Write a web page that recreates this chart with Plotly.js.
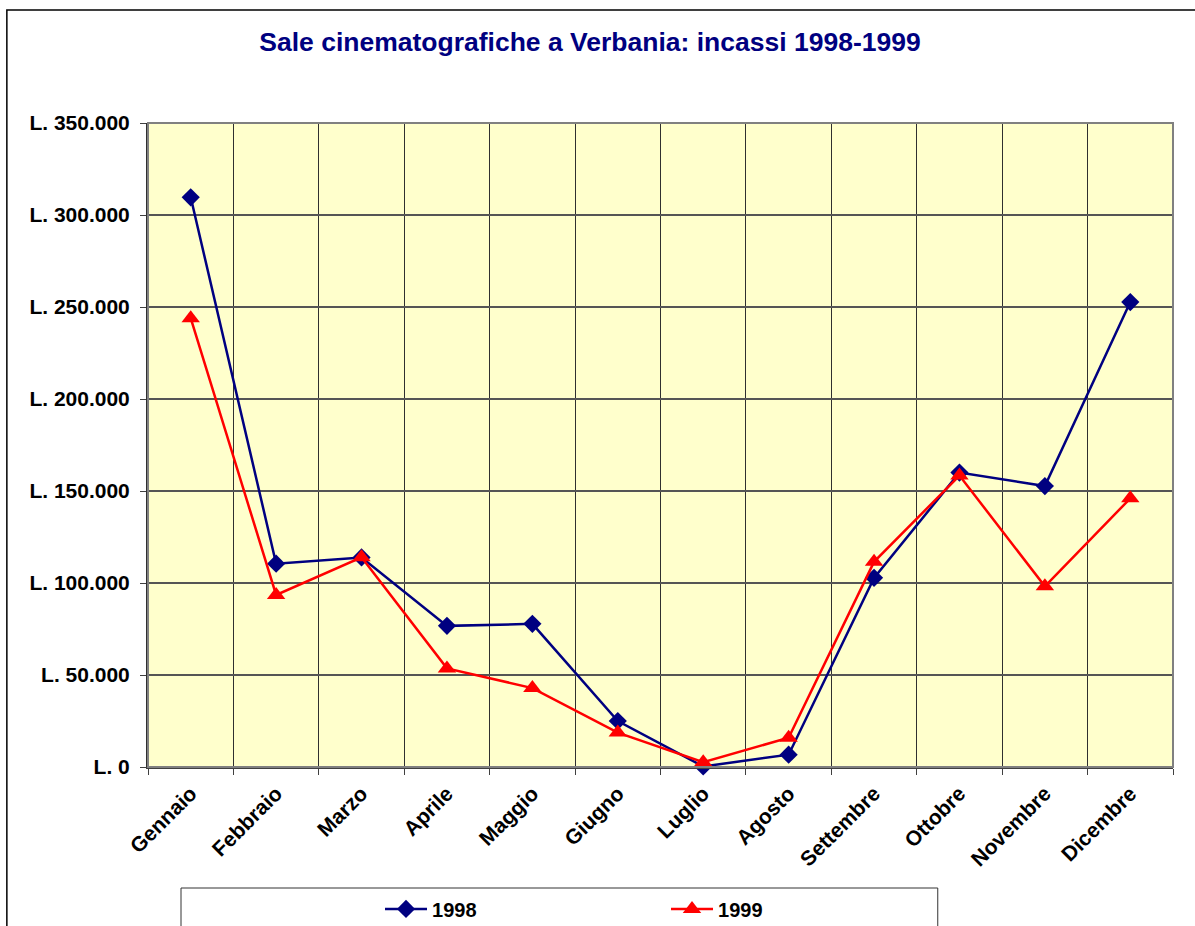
<!DOCTYPE html>
<html>
<head>
<meta charset="utf-8">
<script src="https://cdn.plot.ly/plotly-3.0.1.min.js"></script>
<style>
  html, body { margin: 0; padding: 0; background: #ffffff; }
  #chart { width: 1195px; height: 926px; }
</style>
</head>
<body>
<div id="chart"></div>
<script>
const months = ["Gennaio", "Febbraio", "Marzo", "Aprile", "Maggio", "Giugno",
                "Luglio", "Agosto", "Settembre", "Ottobre", "Novembre", "Dicembre"];
const incassi1998 = [309600, 110500, 113900, 76700, 77800, 25000, 300, 6700, 102800, 160000, 152700, 252700];
const incassi1999 = [243900, 93500, 114000, 53600, 42900, 18700, 2600, 15900, 111500, 158400, 98200, 146000];
const yTickValues = [0, 50000, 100000, 150000, 200000, 250000, 300000, 350000];
const titleText = "Sale cinematografiche a Verbania: incassi 1998-1999";

function lire(v) {
  return "L. " + String(v).replace(/\B(?=(\d{3})+(?!\d))/g, ".");
}
const yTickText = yTickValues.map(lire);

const FONT = "Arial, 'Liberation Sans', sans-serif";

const traces = [
  {
    name: "1998", x: months, y: incassi1998, type: "scatter", mode: "lines+markers",
    line: { color: "#000080", width: 2.5 },
    marker: { symbol: "diamond", size: 14, color: "#000080" },
    cliponaxis: false
  },
  {
    name: "1999", x: months, y: incassi1999, type: "scatter", mode: "lines+markers",
    line: { color: "#FF0000", width: 2.5 },
    marker: { symbol: "triangle-up", size: 16, color: "#FF0000" },
    cliponaxis: false
  }
];

const layout = {
  width: 1195, height: 926,
  margin: { l: 148, r: 22, t: 123, b: 159 },
  paper_bgcolor: "#ffffff",
  plot_bgcolor: "#FFFFCC",
  font: { family: FONT, color: "#000000" },
  title: {
    text: titleText,
    font: { family: FONT, size: 26.5, weight: "bold", color: "#000080" },
    xref: "container", yref: "container", x: 0.4937, y: 0.9546,
    xanchor: "center", yanchor: "middle"
  },
  xaxis: {
    type: "category",
    range: [-0.5, 11.5],
    tickson: "boundaries",
    showgrid: true, gridcolor: "#303030", gridwidth: 1,
    zeroline: false,
    tickangle: -45,
    ticks: "outside", ticklen: 6, tickcolor: "#404040", tickwidth: 1,
    ticklabelstandoff: 4,
    tickfont: { family: FONT, size: 21, weight: "bold", color: "#000000" },
    showline: true, linecolor: "#404040", linewidth: 2,
    automargin: false,
    fixedrange: true
  },
  yaxis: {
    range: [0, 350000],
    tickmode: "array",
    tickvals: yTickValues,
    ticktext: yTickText,
    tickfont: { family: FONT, size: 21, weight: "bold", color: "#000000" },
    showgrid: true, gridcolor: "#555555", gridwidth: 1.5,
    zeroline: false,
    showline: true, linecolor: "#303030", linewidth: 2,
    ticks: "outside", ticklen: 6, tickcolor: "#404040",
    ticklabelstandoff: 6,
    automargin: false,
    fixedrange: true
  },
  showlegend: true,
  legend: {
    orientation: "h",
    xref: "container", yref: "container",
    x: 0.318, xanchor: "left",
    y: 0.0184, yanchor: "middle",
    bgcolor: "rgba(0,0,0,0)",
    borderwidth: 0,
    itemwidth: 42,
    entrywidth: 229,
    font: { family: FONT, size: 20, weight: "bold", color: "#000000" }
  },
  shapes: [
    { type: "rect", xref: "paper", yref: "paper", x0: 0, x1: 1, y0: 0, y1: 1,
      line: { color: "#808080", width: 2 }, layer: "above" },
    { type: "rect", xref: "paper", yref: "paper", x0: 0.0322, x1: 0.7705, y0: -0.1879, y1: -0.35,
      line: { color: "#333333", width: 1 }, layer: "above" },
    { type: "rect", xref: "paper", yref: "paper", x0: -0.1377, x1: 1.2, y0: -0.35, y1: 1.1755,
      line: { color: "#000000", width: 1.5 }, layer: "above" }
  ]
};

Plotly.newPlot("chart", traces, layout, { displayModeBar: false, staticPlot: true });
</script>
</body>
</html>
